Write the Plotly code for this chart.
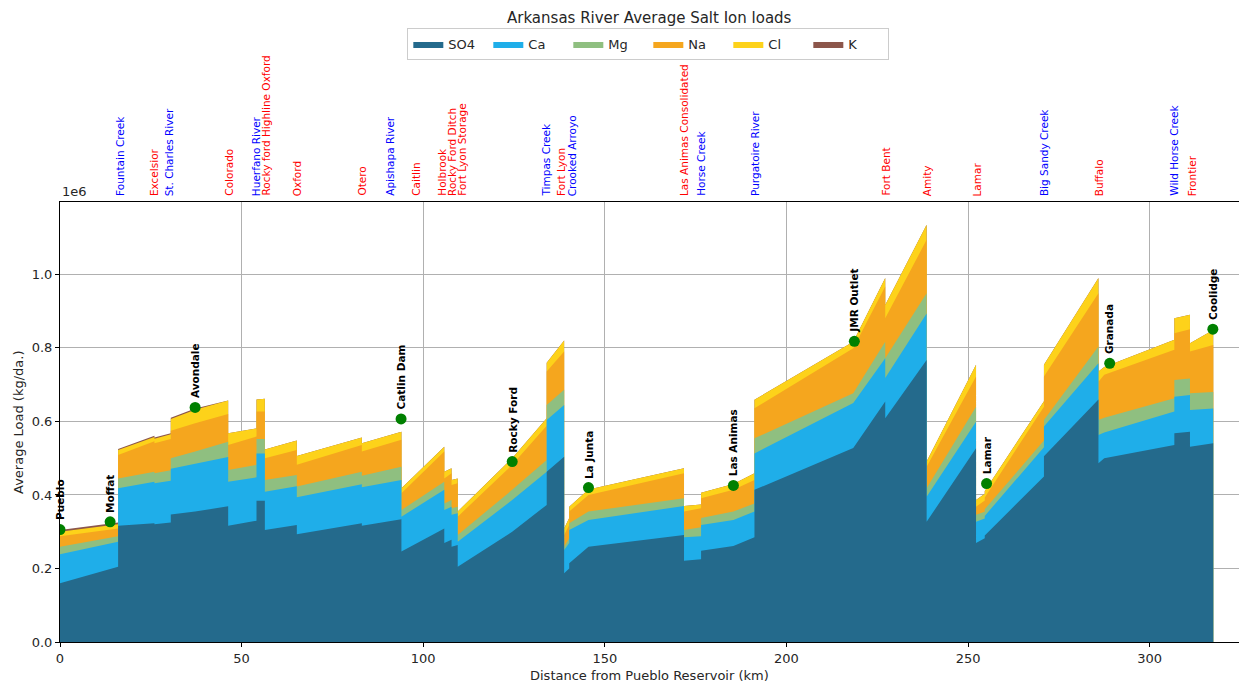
import numpy as np
import plotly.graph_objects as go

# ---------------- data (loads in units of 1e6 kg/da.) ----------------
distance_km = [0.0, 16.0, 16.0, 26.0, 26.0, 30.5, 30.5, 37.2, 46.3, 46.3,
               54.1, 54.1, 56.4, 56.4, 65.2, 65.2, 83.1, 83.1, 94.0, 94.0,
               105.8, 105.8, 107.8, 107.8, 109.5, 109.5, 124.5, 134.0, 134.0, 138.8,
               138.8, 140.2, 140.2, 145.5, 171.8, 171.8, 176.5, 176.5, 185.4, 191.2,
               191.2, 218.4, 227.2, 227.2, 238.6, 238.6, 252.2, 252.2, 254.6, 254.6,
               270.9, 270.9, 285.9, 285.9, 287.5, 306.8, 306.8, 311.1, 311.1, 317.5]

so4 = [.160, .205, .316, .323, .320, .325, .347, .355, .369, .316,
       .330, .384, .384, .305, .318, .293, .323, .316, .334, .246,
       .309, .269, .278, .259, .264, .205, .300, .373, .463, .504,
       .187, .200, .214, .259, .291, .221, .225, .248, .261, .285,
       .414, .528, .654, .609, .767, .327, .527, .269, .282, .290,
       .450, .505, .660, .486, .500, .536, .568, .572, .531, .541]
ca = [.079, .068, .102, .113, .112, .114, .124, .130, .134, .120,
      .118, .129, .129, .104, .106, .101, .106, .105, .107, .095,
      .105, .090, .090, .087, .086, .068, .086, .090, .141, .141,
      .063, .069, .091, .073, .079, .064, .063, .070, .071, .070,
      .099, .122, .118, .109, .127, .068, .072, .058, .054, .053,
      .080, .081, .098, .077, .070, .091, .099, .100, .100, .094]
mg = [.020, .015, .027, .027, .027, .028, .029, .033, .042, .032,
      .034, .039, .039, .032, .030, .029, .034, .031, .036, .018,
      .022, .018, .018, .018, .018, .018, .028, .032, .041, .041,
      .009, .013, .018, .023, .021, .020, .024, .019, .023, .022,
      .041, .027, .045, .054, .055, .023, .041, .019, .018, .018,
      .018, .018, .046, .041, .040, .036, .046, .045, .046, .045]
na = [.029, .021, .064, .083, .082, .085, .075, .077, .075, .068,
      .077, .075, .075, .059, .068, .059, .073, .066, .073, .046,
      .082, .068, .073, .063, .064, .050, .068, .093, .091, .104,
      .032, .036, .032, .045, .068, .050, .052, .054, .059, .064,
      .082, .122, .150, .109, .145, .059, .082, .022, .031, .032,
      .092, .118, .145, .104, .117, .132, .127, .134, .113, .128]
cl = [.012, .011, .013, .012, .012, .013, .032, .037, .037, .032,
      .022, .033, .035, .024, .026, .024, .020, .023, .022, .013,
      .013, .018, .014, .014, .013, .014, .018, .021, .024, .030,
      .018, .019, .013, .015, .014, .015, .010, .015, .016, .018,
      .023, .018, .023, .036, .041, .014, .032, .018, .018, .018,
      .015, .032, .041, .028, .021, .027, .041, .039, .023, .041]
k = [.005, .005, .003, .003, .003, .003, .003, .003, .000, .000] + [0.0] * 50

ion_names = ["SO4", "Ca", "Mg", "Na", "Cl", "K"]
ion_colors = ["#246A8C", "#1FAEE9", "#8FBF80", "#F5A61E", "#FDD21A", "#8C564B"]

station_names = ["Pueblo", "Moffat", "Avondale", "Catlin Dam", "Rocky Ford", "La Junta",
                 "Las Animas", "JMR Outlet", "Lamar", "Granada", "Coolidge"]
station_km = [0.0, 13.8, 37.2, 93.9, 124.5, 145.5, 185.4, 218.7, 255.1, 289.0, 317.4]
station_load = [0.306, 0.327, 0.638, 0.607, 0.491, 0.420, 0.426, 0.818, 0.431, 0.758, 0.851]

canal_names = ["Excelsior", "Colorado", "Rocky ford Highline Oxford", "Oxford", "Otero",
               "Caitlin", "Holbrook", "Rocky Ford Ditch", "Fort Lyon Storage", "Fort Lyon",
               "Las Animas Consolidated", "Fort Bent", "Amity", "Lamar", "Buffalo", "Frontier"]
canal_km = [25.9, 46.3, 56.6, 65.2, 82.9, 97.8, 105.1, 107.9, 110.6, 137.9,
            171.8, 227.3, 238.6, 252.6, 286.0, 311.6]
trib_names = ["Fountain Creek", "St. Charles River", "Huerfano River", "Apishapa River",
              "Timpas Creek", "Crooked Arroyo", "Horse Creek", "Purgatoire River",
              "Big Sandy Creek", "Wild Horse Creek"]
trib_km = [16.5, 30.1, 54.0, 90.8, 133.8, 140.9, 176.3, 191.2, 270.8, 306.5]

# ---------------- figure ----------------
FONT = "DejaVu Sans"
x = np.array(distance_km)
layers = np.array([so4, ca, mg, na, cl, k])
tops = np.cumsum(layers, axis=0)

fig = go.Figure()
# draw from the total downwards so every layer is filled to zero (no seams)
for i in range(len(ion_names) - 1, -1, -1):
    fig.add_trace(go.Scatter(
        x=x, y=tops[i], mode="lines", line=dict(width=0, color=ion_colors[i]),
        fill="tozeroy", fillcolor=ion_colors[i], name=ion_names[i], hoverinfo="skip"))

fig.add_trace(go.Scatter(
    x=station_km, y=station_load, mode="markers",
    marker=dict(color="green", size=11), showlegend=False, hoverinfo="skip"))

annotations = []
for name, km, load in zip(station_names, station_km, station_load):
    annotations.append(dict(x=km, y=load, xref="x", yref="y", text="<b>%s</b>" % name,
                            textangle=-90, showarrow=False, yanchor="bottom", xanchor="center",
                            yshift=7, font=dict(family=FONT, size=10.5, color="black")))
for name, km in zip(canal_names, canal_km):
    annotations.append(dict(x=km, y=1, xref="x", yref="paper", text=name, textangle=-90,
                            showarrow=False, yanchor="bottom", xanchor="center", yshift=4,
                            font=dict(family=FONT, size=10.5, color="red")))
for name, km in zip(trib_names, trib_km):
    annotations.append(dict(x=km, y=1, xref="x", yref="paper", text=name, textangle=-90,
                            showarrow=False, yanchor="bottom", xanchor="center", yshift=4,
                            font=dict(family=FONT, size=10.5, color="blue")))
annotations.append(dict(x=0, y=1, xref="paper", yref="paper", text="1e6", showarrow=False,
                        xanchor="left", yanchor="bottom", yshift=1,
                        font=dict(family=FONT, size=13, color="#262626")))
# y-axis title drawn as an annotation placed in pixels
annotations.append(dict(x=0, y=0.5, xref="paper", yref="paper", xshift=-42,
                        text="Average Load (kg/da.)", textangle=-90, showarrow=False,
                        xanchor="center", yanchor="middle",
                        font=dict(family=FONT, size=13, color="#262626")))
# x-axis title drawn as an annotation placed in pixels
annotations.append(dict(x=0.5, y=0, xref="paper", yref="paper", yshift=-33,
                        text="Distance from Pueblo Reservoir (km)", showarrow=False,
                        xanchor="center", yanchor="middle",
                        font=dict(family=FONT, size=13, color="#262626")))

fig.update_layout(
    width=1239, height=686,
    margin=dict(l=60, r=0, t=202, b=44),
    paper_bgcolor="white", plot_bgcolor="white",
    font=dict(family=FONT, size=13, color="#262626"),
    title=dict(text="Arkansas River Average Salt Ion loads", x=0.524, xanchor="center",
               y=1 - 18 / 686, yanchor="middle", yref="container",
               font=dict(family=FONT, size=15, color="#262626")),
    legend=dict(orientation="h", x=0.499, xanchor="center", y=1.359, yanchor="middle",
                traceorder="reversed", bordercolor="#cccccc", borderwidth=1,
                bgcolor="white", font=dict(family=FONT, size=13, color="#262626"),
                entrywidth=35, itemwidth=30),
    annotations=annotations,
    showlegend=True,
)
fig.update_xaxes(range=[0, 324.6], tickvals=[0, 50, 100, 150, 200, 250, 300],
                 showgrid=True, gridcolor="#b0b0b0", gridwidth=1, automargin=False,
                 showline=True, linecolor="black", linewidth=1, mirror=True,
                 ticks="outside", ticklen=4, tickcolor="black", zeroline=False)
fig.update_yaxes(range=[0, 1.197], tickvals=[0, 0.2, 0.4, 0.6, 0.8, 1.0], tickformat=".1f",
                 showgrid=True, gridcolor="#b0b0b0", gridwidth=1, automargin=False,
                 showline=True, linecolor="black", linewidth=1, mirror=False,
                 ticks="outside", ticklen=4, tickcolor="black", zeroline=False)

# remove the browser's default page margin so the 1239x686 figure fills the window
fig.write_html("out.html",
               config={"displayModeBar": False},
               post_script="document.body.style.margin='0';"
                           "document.body.style.overflow='hidden';")
